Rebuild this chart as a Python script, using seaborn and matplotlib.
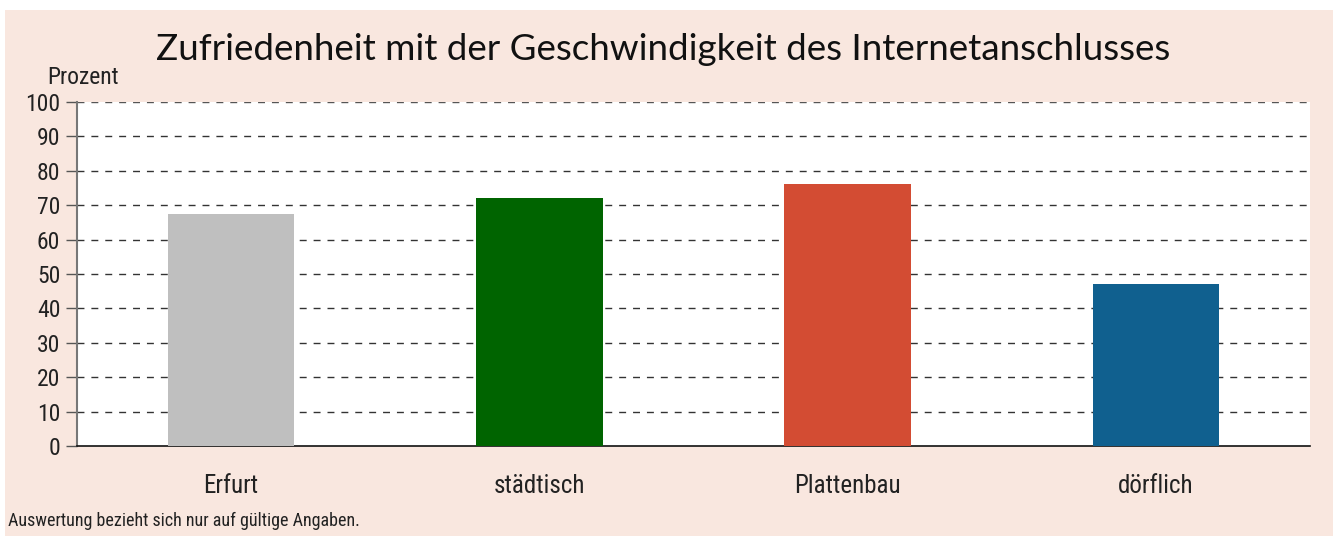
import numpy as np
import pandas as pd
import matplotlib.pyplot as plt
import seaborn as sns
from matplotlib.patches import Rectangle

categories = ["Erfurt", "städtisch", "Plattenbau", "dörflich"]
values = [67.4, 72.1, 76.3, 47.1]
colors = ["#BFBFBF", "#006400", "#D34C33", "#10608F"]
yticks = list(range(0, 101, 10))

title = "Zufriedenheit mit der Geschwindigkeit des Internetanschlusses"
footnote = "Auswertung bezieht sich nur auf gültige Angaben."

df = pd.DataFrame({"Gebiet": categories, "Prozent": values})

sns.set_style("white")
plt.rcParams["font.family"] = ["Roboto Condensed", "Liberation Sans Narrow", "Lato", "DejaVu Sans"]

fig = plt.figure(figsize=(13.38, 5.38), dpi=100, facecolor="white")
# pink panel behind the chart
fig.patches.append(Rectangle((5 / 1338, 2 / 538), 1328 / 1338, 526 / 538,
                             transform=fig.transFigure, facecolor="#F9E7DF",
                             edgecolor="none", zorder=-10))

ax = fig.add_axes([77 / 1338, 1 - 446 / 538, 1233 / 1338, 344 / 538])
ax.set_zorder(2)
ax.set_facecolor("white")

sns.barplot(data=df, x="Gebiet", y="Prozent", hue="Gebiet", palette=colors,
            width=0.41, saturation=1, legend=False, linewidth=0, ax=ax, zorder=3)

ax.set_xlim(-0.5, len(categories) - 0.5)
ax.set_ylim(0, 100)
ax.set_yticks(yticks)
ax.set_yticklabels([str(t) for t in yticks], fontsize=17, color="#222222")
for t in yticks[1:]:
    ax.axhline(t, color="#555555" if t == 100 else "#333333", lw=1,
               ls=(0, (5, 5)), zorder=1)

ax.set_xticks(range(len(categories)))
ax.set_xticklabels(categories, fontsize=18, color="#222222")
ax.set_xticks(np.arange(-0.5, len(categories)), minor=True)
ax.tick_params(axis="x", which="major", length=0, pad=20)
ax.tick_params(axis="x", which="minor", length=8, width=1, color="#555555", direction="out")
ax.tick_params(axis="y", length=8, width=1, color="#555555", direction="out", pad=4, left=True)

ax.set_xlabel("")
ax.set_ylabel("")
for s in ["top", "right"]:
    ax.spines[s].set_visible(False)
ax.spines["left"].set_color("#777777")
ax.spines["left"].set_linewidth(1.5)
ax.spines["bottom"].set_color("#111111")
ax.spines["bottom"].set_linewidth(1.2)

fig.text(663 / 1338, 1 - 50 / 538, title, ha="center", va="center",
         fontsize=26.5, family=["Lato", "DejaVu Sans"], color="#111111")
fig.text(47 / 1338, 1 - 77 / 538, "Prozent", ha="left", va="center",
         fontsize=17, color="#222222")
fig.text(8 / 1338, 1 - 521 / 538, footnote, ha="left", va="center",
         fontsize=13, color="#222222")

fig.savefig("out.png", dpi=100, facecolor="white")
